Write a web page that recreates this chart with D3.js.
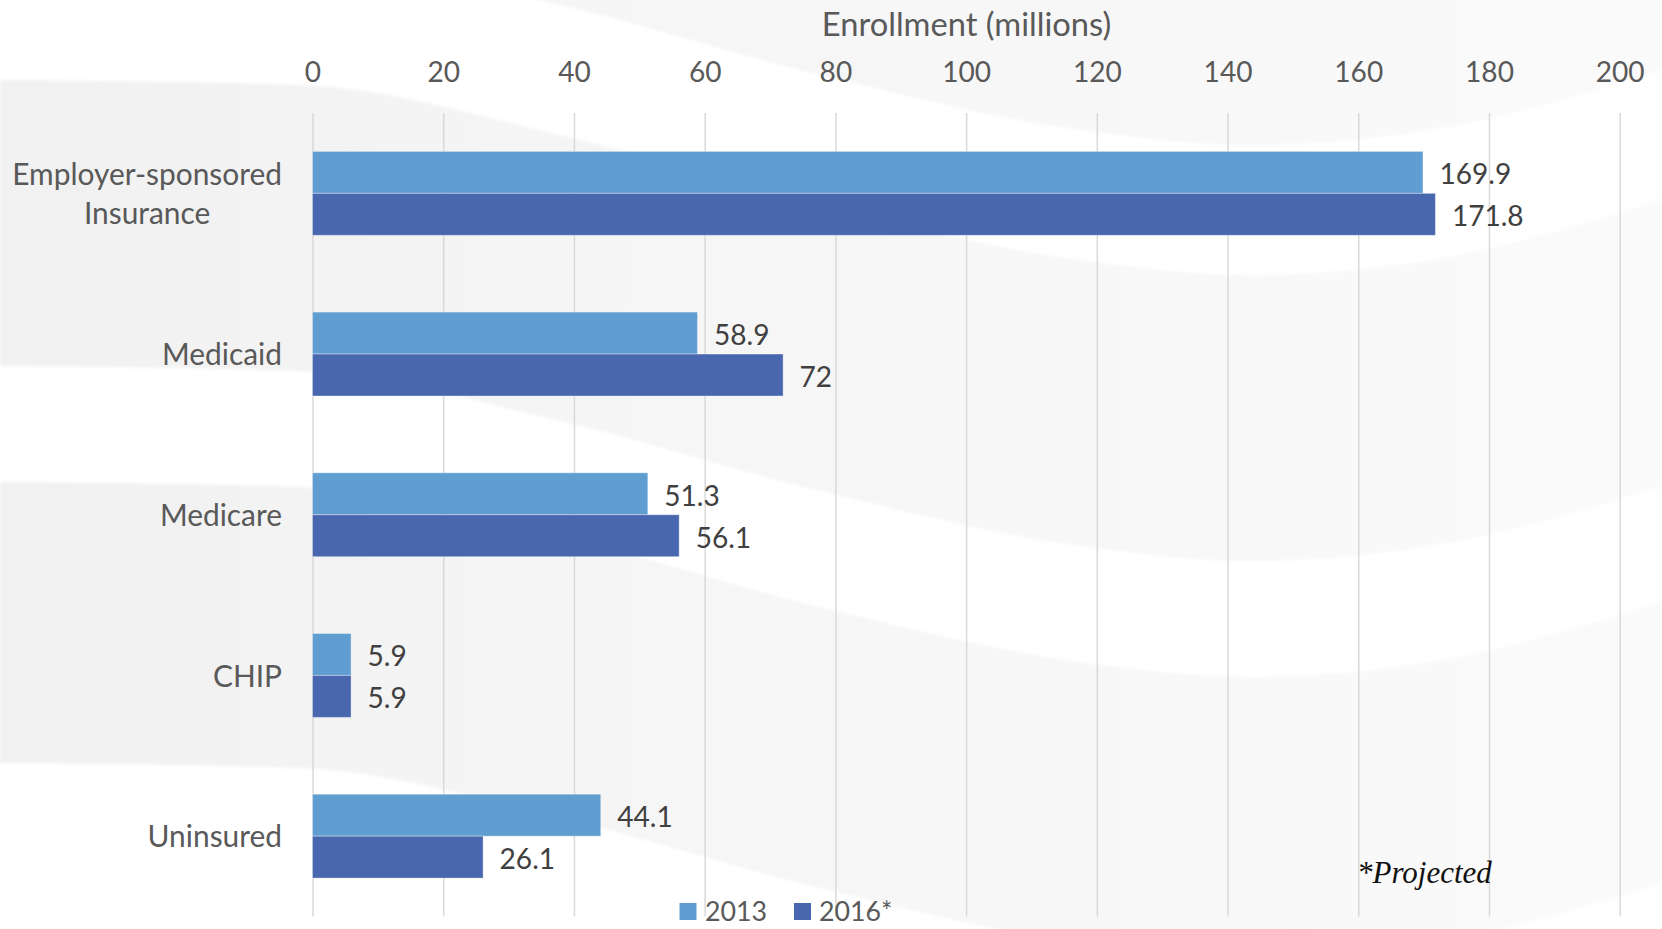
<!DOCTYPE html>
<html>
<head>
<meta charset="utf-8">
<script src="https://cdn.jsdelivr.net/npm/d3@7"></script>
<style>
  html, body { margin: 0; padding: 0; background: #ffffff; }
  svg { display: block; }
</style>
</head>
<body>
<svg id="chart" width="1662" height="929"></svg>
<script>
// ---------------- data ----------------
const categories = ["Employer-sponsored Insurance", "Medicaid", "Medicare", "CHIP", "Uninsured"];
const seriesNames = ["2013", "2016*"];
const values2013 = [169.9, 58.9, 51.3, 5.9, 44.1];
const values2016 = [171.8, 72, 56.1, 5.9, 26.1];
const xTicks = [0, 20, 40, 60, 80, 100, 120, 140, 160, 180, 200];
const axisTitle = "Enrollment (millions)";
const footnote = "*Projected";

// ---------------- style ----------------
const W = 1662, H = 929;
const colors = { "2013": "#609ed2", "2016*": "#4967ae" };
const FONT = "Lato, 'Open Sans', sans-serif";
const svg = d3.select("#chart");

// measure font vs Calibri metrics so text widths match the original
function measure(text, size) {
  const t = svg.append("text").attr("font-family", FONT).attr("font-size", size).text(text);
  const w = t.node().getComputedTextLength();
  t.remove();
  return w;
}
const textFactor = (8.432 * 100) / measure("Employer-sponsored", 100);
const digitFactor = (2.28 * 100) / measure("169.9", 100);
const sz = (calibri) => calibri * textFactor;
const szD = (calibri) => calibri * digitFactor;

// ---------------- background waves ----------------
const defs = svg.append("defs");
const grad = defs.append("linearGradient").attr("id", "bgGrad")
  .attr("x1", 0).attr("x2", 1).attr("y1", 0).attr("y2", 0);
grad.append("stop").attr("offset", "0%").attr("stop-color", "#f1f1f1");
grad.append("stop").attr("offset", "45%").attr("stop-color", "#f6f6f6");
grad.append("stop").attr("offset", "100%").attr("stop-color", "#fafafa");
defs.append("filter").attr("id", "soft").append("feGaussianBlur").attr("stdDeviation", 1.5);

const waveShape = [[0, 0], [300, 5], [560, 55], [820, 125], [1080, 180], [1250, 195], [1430, 180], [1662, 120]];
const grayBands = [[-500, -50], [80, 366], [482, 763]];
svg.append("rect").attr("width", W).attr("height", H).attr("fill", "#ffffff");
const bg = svg.append("g").attr("filter", "url(#soft)");
grayBands.forEach(([a, b]) => {
  bg.append("path")
    .attr("d", d3.area().x(d => d[0]).y0(d => a + d[1]).y1(d => b + d[1]).curve(d3.curveMonotoneX)(waveShape))
    .attr("fill", "url(#bgGrad)");
});

// ---------------- scales ----------------
const x = d3.scaleLinear().domain([0, 200]).range([312.5, 1619.7]);
const y = d3.scaleBand().domain(categories).range([113, 916.5]).paddingInner(0.478).paddingOuter(0.239);
const ySub = d3.scaleBand().domain(seriesNames).range([0, y.bandwidth()]);

// ---------------- gridlines ----------------
const grid = svg.append("g")
  .attr("transform", `translate(0,${y.range()[1]})`)
  .call(d3.axisBottom(x).tickValues(xTicks).tickSize(-(y.range()[1] - y.range()[0])).tickFormat(""));
grid.select(".domain").remove();
grid.selectAll("line").attr("stroke", "#d9d9d9").attr("stroke-width", 1.5);

// ---------------- top axis ----------------
const axis = svg.append("g")
  .attr("transform", `translate(0,${y.range()[0]})`)
  .call(d3.axisTop(x).tickValues(xTicks).tickSize(0).tickPadding(31.5));
axis.select(".domain").remove();
axis.selectAll("text")
  .attr("font-family", FONT).attr("font-size", szD(31.5)).attr("fill", "#595959");

svg.append("text")
  .attr("x", 966.5).attr("y", 24.5).attr("dy", "0.35em")
  .attr("text-anchor", "middle")
  .attr("font-family", FONT).attr("font-size", sz(35)).attr("fill", "#595959")
  .text(axisTitle);

// ---------------- bars ----------------
const rows = categories.map((c, i) => ({ cat: c, vals: [
  { s: seriesNames[0], v: values2013[i] },
  { s: seriesNames[1], v: values2016[i] }
]}));

const groups = svg.append("g").selectAll("g").data(rows).join("g")
  .attr("transform", d => `translate(0,${y(d.cat)})`);

groups.selectAll("rect").data(d => d.vals).join("rect")
  .attr("x", x(0))
  .attr("y", d => ySub(d.s))
  .attr("width", d => x(d.v) - x(0))
  .attr("height", ySub.bandwidth())
  .attr("fill", d => colors[d.s])
  .attr("stroke", "rgba(255,255,255,0.35)")
  .attr("stroke-width", 1);

groups.selectAll("text.val").data(d => d.vals).join("text")
  .attr("class", "val")
  .attr("x", d => x(d.v) + 16.5)
  .attr("y", d => ySub(d.s) + ySub.bandwidth() / 2)
  .attr("dy", "0.42em")
  .attr("font-family", FONT).attr("font-size", szD(31.5)).attr("fill", "#404040")
  .text(d => d.v);

// ---------------- category labels ----------------
function splitLabel(s) {
  if (s.length > 15 && s.indexOf(" ") > 0) {
    const k = s.lastIndexOf(" ");
    return [s.slice(0, k), s.slice(k + 1)];
  }
  return [s];
}
const lineH = 39;
categories.forEach(c => {
  const lines = splitLabel(c);
  const cy = y(c) + y.bandwidth() / 2;
  const g = svg.append("g");
  const fs = sz(32);
  lines.forEach((ln, j) => {
    g.append("text")
      .attr("y", cy + (j - (lines.length - 1) / 2) * lineH)
      .attr("dy", "0.37em")
      .attr("text-anchor", "middle")
      .attr("font-family", FONT).attr("font-size", fs).attr("fill", "#595959")
      .text(ln);
  });
  // right-align the block to x = 282
  const maxW = d3.max(g.selectAll("text").nodes(), n => n.getComputedTextLength());
  g.selectAll("text").attr("x", 282 - maxW / 2);
});

// ---------------- legend ----------------
const legend = svg.append("g");
const legendItems = [
  { s: seriesNames[0], sx: 679.5, tx: 705 },
  { s: seriesNames[1], sx: 794, tx: 819 }
];
legendItems.forEach(it => {
  legend.append("rect").attr("x", it.sx).attr("y", 903).attr("width", 17).attr("height", 17)
    .attr("fill", colors[it.s]);
  legend.append("text").attr("x", it.tx).attr("y", 911).attr("dy", "0.36em")
    .attr("font-family", FONT).attr("font-size", szD(30)).attr("fill", "#595959")
    .text(it.s);
});

// ---------------- footnote ----------------
svg.append("text")
  .attr("x", 1357).attr("y", 872).attr("dy", "0.35em")
  .attr("font-family", "'Liberation Serif', 'Times New Roman', serif")
  .attr("font-style", "italic").attr("font-size", 31).attr("fill", "#111111")
  .text(footnote);
</script>
</body>
</html>
